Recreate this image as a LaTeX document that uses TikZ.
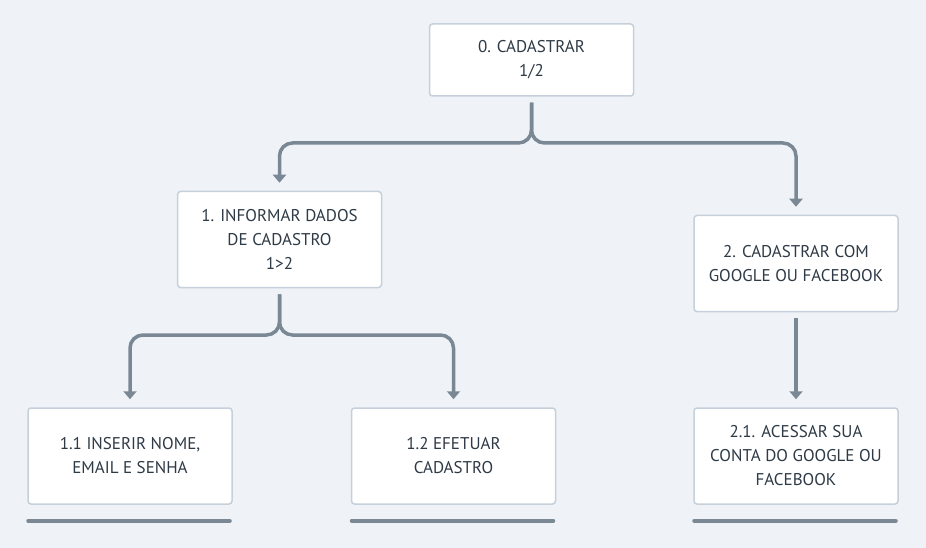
\documentclass[tikz,border=0pt]{standalone}
\usepackage{fontspec}
\setmainfont{PT Sans}
\usetikzlibrary{arrows.meta, positioning, calc}
\definecolor{pagebg}{RGB}{239, 243, 247}
\definecolor{boxline}{RGB}{197, 208, 218}
\definecolor{slate}{RGB}{122, 136, 150}
\definecolor{inkdark}{RGB}{46, 58, 70}

\tikzset{
  task/.style={draw=boxline, line width=1.5pt, fill=white, rounded corners=3pt,
    minimum width=204pt, minimum height=96pt, align=center, text=inkdark,
    font=\fontsize{17}{24}\selectfont},
  link/.style={slate, line width=3.5pt, rounded corners=13pt,
    -{Triangle[width=13pt,length=8pt]}},
  baseline rule/.style={slate, line width=4pt, line cap=round}
}

\begin{document}
\begin{tikzpicture}[x=1pt, y=-1pt]
  \fill[pagebg] (0,0) rectangle (926,548);

  \node[task, minimum height=72pt] (root) at (531.5,60) {0. CADASTRAR\\1/2};
  \node[task] (n1) at (279.5,239.5) {1. INFORMAR DADOS\\DE CADASTRO\\1>2};
  \node[task] (n2) at (796,263.5) {2. CADASTRAR COM\\GOOGLE OU FACEBOOK};
  \node[task] (n11) at (130,456) {1.1 INSERIR NOME,\\EMAIL E SENHA};
  \node[task] (n12) at (453.5,456) {1.2 EFETUAR\\CADASTRO};
  \node[task] (n21) at (796,456) {2.1. ACESSAR SUA\\CONTA DO GOOGLE OU\\FACEBOOK};

  % bus lines
  \coordinate (bus0) at (531.5,143);
  \coordinate (bus1) at (279.5,335);

  \draw[link] ([yshift=-6pt]root.south) |- (bus0 -| n1.north) -- ([yshift=8pt]n1.north);
  \draw[link] ([yshift=-6pt]root.south) |- (bus0 -| n2.north) -- ([yshift=8pt]n2.north);
  \draw[link] ([yshift=-6pt]n1.south) |- (bus1 -| n11.north) -- ([yshift=8pt]n11.north);
  \draw[link] ([yshift=-6pt]n1.south) |- (bus1 -| n12.north) -- ([yshift=8pt]n12.north);
  \draw[link] ([yshift=-6pt]n2.south) -- ([yshift=8pt]n21.north);

  \foreach \leaf in {n11, n12, n21}
    \draw[baseline rule] ([shift={(1pt,-16pt)}]\leaf.south west) -- ([shift={(-3pt,-16pt)}]\leaf.south east);
\end{tikzpicture}
\end{document}
